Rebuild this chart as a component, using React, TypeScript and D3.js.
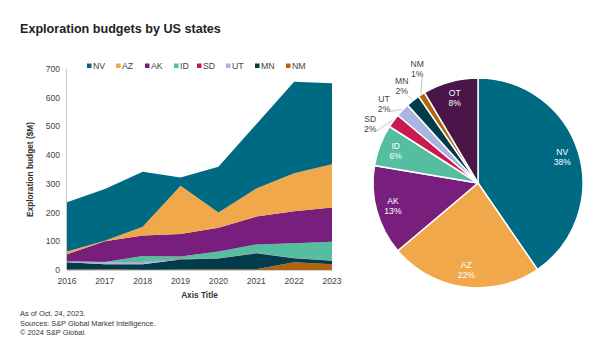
import React from "react";
import * as d3 from "d3";

const years = [2016, 2017, 2018, 2019, 2020, 2021, 2022, 2023];
const nv = [172, 180, 191, 29, 160, 224, 319, 282];
const az = [9, 2, 31, 168, 53, 98, 132, 150];
const ak = [24, 72, 71, 78, 83, 97, 112, 120];
const id = [0, 1, 21, 9, 23, 30, 51, 65];
const sd = [1, 0, 1, 1, 1, 1, 1, 1];
const ut = [3, 7, 7, 0, 0, 0, 0, 0];
const mn = [25, 17, 19, 35, 37, 55, 14, 12];
const nm = [2, 3, 1, 2, 3, 3, 27, 20];
const legendKeys = ["NV", "AZ", "AK", "ID", "SD", "UT", "MN", "NM"];
const stackOrder = ["NM", "MN", "UT", "SD", "ID", "AK", "AZ", "NV"];
const yTicks = [0, 100, 200, 300, 400, 500, 600, 700];

const pieLabels = ["NV", "AZ", "AK", "ID", "SD", "UT", "MN", "NM", "OT"];
const pieValues = [38, 22, 13, 6, 2, 2, 2, 1, 8];

const colors: Record<string, string> = {
  NV: "#006a82",
  AZ: "#f1a84b",
  AK: "#781f7d",
  ID: "#54be9f",
  SD: "#c81a4e",
  UT: "#aab4e0",
  MN: "#003c4c",
  NM: "#b2640f",
  OT: "#4a1549",
};

const FONT = "'Liberation Sans', Arial, sans-serif";

export default function App() {
  const seriesMap: Record<string, number[]> = { NV: nv, AZ: az, AK: ak, ID: id, SD: sd, UT: ut, MN: mn, NM: nm };
  const table = years.map((y, i) => {
    const row: any = { year: y };
    for (const k of legendKeys) row[k] = seriesMap[k][i];
    return row;
  });
  const stacked = d3.stack<any>().keys(stackOrder)(table);
  const x = d3.scaleLinear().domain([2016, 2023]).range([67, 332]);
  const y = d3.scaleLinear().domain([0, 700]).range([270, 69]);
  const area = d3
    .area<any>()
    .x((d) => x(d.data.year))
    .y0((d) => y(d[0]))
    .y1((d) => y(d[1]));

  // legend layout
  const legendWidths: Record<string, number> = {};
  legendKeys.forEach((k) => (legendWidths[k] = k === "ID" ? 23 : k === "MN" || k === "NM" ? 31 : 29));
  let lx = 87;
  const legendItems = legendKeys.map((k) => {
    const item = { k, x: lx };
    lx += legendWidths[k];
    return item;
  });

  // pie
  const cx = 478;
  const cy = 183;
  const R = 105;
  const pieData = pieLabels.map((l, i) => ({ label: l, value: pieValues[i] }));
  const arcs = d3
    .pie<any>()
    .sort(null)
    .value((d) => d.value)(pieData);
  const arcGen = d3.arc<any>().innerRadius(0).outerRadius(R);
  const labelArc = d3.arc<any>().innerRadius(R * 0.84).outerRadius(R * 0.84);
  const midRef = (arcs[6].startAngle + arcs[6].endAngle) / 2;

  // outside labels for small slices, spread apart
  const outside = arcs
    .filter((a) => a.data.value < 5)
    .map((a) => {
      const mid = (a.startAngle + a.endAngle) / 2;
      const la = midRef + (mid - midRef) * 1.5;
      return {
        a,
        mid,
        lx: Math.sin(la) * 123,
        ly: -Math.cos(la) * 123,
      };
    });
  // arcs go clockwise from SD (lowest) up to NM (highest); enforce spacing
  for (let i = 1; i < outside.length; i++) {
    const prev = outside[i - 1];
    if (outside[i].ly > prev.ly - 17) outside[i].ly = prev.ly - 17;
  }

  return (
    <svg width={600} height={342} style={{ display: "block", position: "absolute", left: 0, top: 0 }} fontFamily={FONT}>
      <rect width={600} height={342} fill="#fff" />
      <text x={20} y={33} fontSize={12.6} fontWeight="bold" fill="#222">
        Exploration budgets by US states
      </text>

      {/* areas */}
      {stacked.map((s) => (
        <path key={s.key} d={area(s) || ""} fill={colors[s.key]} />
      ))}

      {/* axes */}
      <line x1={x(2016) - 0.5} x2={x(2016) - 0.5} y1={y(700)} y2={y(0)} stroke="#c8c8c8" strokeWidth={1} />
      <line x1={x(2016)} x2={x(2023)} y1={y(0) + 0.5} y2={y(0) + 0.5} stroke="#d0d0d0" strokeWidth={1} />
      {yTicks.map((t) => (
        <text key={t} x={60} y={y(t) + 3} fontSize={8.6} textAnchor="end" fill="#444">
          {t}
        </text>
      ))}
      {years.map((yr) => (
        <text key={yr} x={x(yr)} y={284} fontSize={8.6} textAnchor="middle" fill="#444">
          {yr}
        </text>
      ))}
      <text x={x(2019.5)} y={298} fontSize={8.3} fontWeight="bold" textAnchor="middle" fill="#333">
        Axis Title
      </text>
      <text
        transform={`translate(33,${(y(0) + y(700)) / 2}) rotate(-90)`}
        fontSize={8.3}
        fontWeight="bold"
        textAnchor="middle"
        fill="#333"
      >
        Exploration budget ($M)
      </text>

      {/* legend */}
      {legendItems.map((it) => (
        <g key={it.k}>
          <rect x={it.x} y={63.5} width={4.5} height={4.5} fill={colors[it.k]} />
          <text x={it.x + 6} y={69.2} fontSize={8.8} fill="#444">
            {it.k}
          </text>
        </g>
      ))}

      {/* pie */}
      <g transform={`translate(${cx},${cy})`}>
        {arcs.map((a) => (
          <path key={a.data.label} d={arcGen(a) || ""} fill={colors[a.data.label]} stroke="#fff" strokeWidth={1.5} />
        ))}
        {arcs
          .filter((a) => a.data.value >= 5)
          .map((a) => {
            const [px, py] = labelArc.centroid(a);
            return (
              <text key={a.data.label} x={px} y={py} fontSize={8.6} textAnchor="middle" fill="#fff">
                <tspan x={px} dy={-2}>{a.data.label}</tspan>
                <tspan x={px} dy={10}>{a.data.value}%</tspan>
              </text>
            );
          })}
        {outside.map((o) => {
          const ex = Math.sin(o.mid) * (R + 1);
          const ey = -Math.cos(o.mid) * (R + 1);
          const sx = o.lx + 5;
          const sy = o.ly + 8;
          return (
            <g key={o.a.data.label}>
              <polyline points={`${sx},${sy} ${ex},${ey}`} fill="none" stroke="#aaa" strokeWidth={0.7} />
              <text x={o.lx} y={o.ly} fontSize={8.6} textAnchor="middle" fill="#444">
                <tspan x={o.lx} dy={-2}>{o.a.data.label}</tspan>
                <tspan x={o.lx} dy={10}>{o.a.data.value}%</tspan>
              </text>
            </g>
          );
        })}
      </g>

      {/* footnotes */}
      <text x={20} y={316} fontSize={7.4} fill="#333">As of Oct. 24, 2023.</text>
      <text x={20} y={325.5} fontSize={7.4} fill="#333">Sources: S&amp;P Global Market Intelligence.</text>
      <text x={20} y={335} fontSize={7.4} fill="#333">© 2024 S&amp;P Global.</text>
    </svg>
  );
}
